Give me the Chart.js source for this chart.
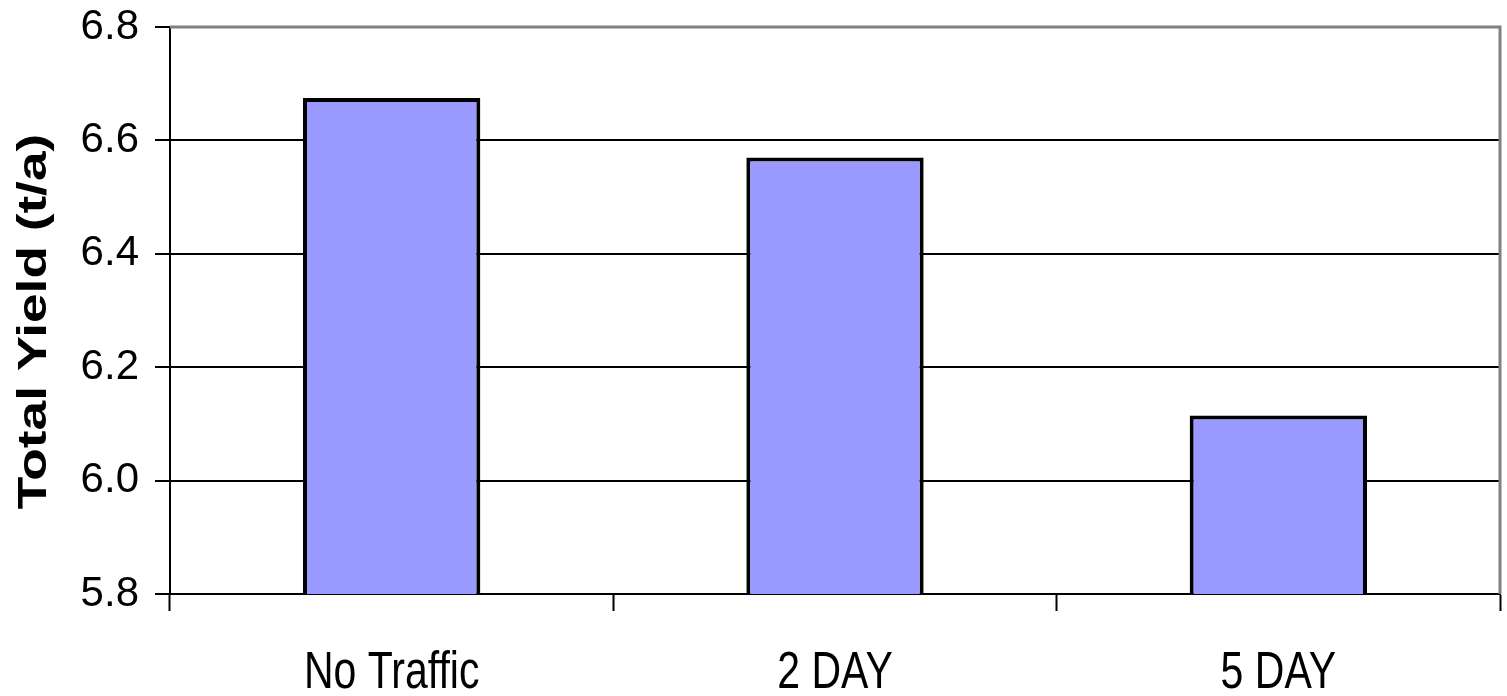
<!DOCTYPE html>
<html>
<head>
<meta charset="utf-8">
<title>Total Yield</title>
<script src="https://cdn.jsdelivr.net/npm/chart.js@4"></script>
<style>
  html, body { margin: 0; padding: 0; background: #fff; }
  #wrap { position: relative; width: 1507px; height: 696px; }
</style>
</head>
<body>
<div id="wrap"><canvas id="chart"></canvas></div>
<script>
const categories = ["No Traffic", "2 DAY", "5 DAY"];
const yields = [6.675, 6.57, 6.115];
const yMin = 5.8;
const yMax = 6.8;
const yStep = 0.2;
const yTitle = "Total Yield (t/a)";

// gray frame on top/right of the plot, tall category labels and the rotated axis title
const framePlugin = {
  id: "frame",
  afterDraw(chart) {
    const { ctx, chartArea, scales } = chart;
    ctx.save();
    ctx.strokeStyle = "#808080";
    ctx.lineWidth = 3;
    ctx.beginPath();
    ctx.moveTo(chartArea.left, chartArea.top);
    ctx.lineTo(chartArea.right, chartArea.top);
    ctx.lineTo(chartArea.right, chartArea.bottom);
    ctx.stroke();
    ctx.restore();

    // category labels, stretched vertically
    ctx.save();
    ctx.font = "41px 'Liberation Sans', Arial, sans-serif";
    ctx.fillStyle = "#000";
    ctx.textAlign = "center";
    ctx.textBaseline = "alphabetic";
    categories.forEach((label, i) => {
      const x = scales.x.getPixelForTick(i);
      ctx.save();
      ctx.translate(x, 688);
      ctx.scale(1, 1.28);
      ctx.fillText(label, 0, 0);
      ctx.restore();
    });
    ctx.restore();

    ctx.save();
    ctx.translate(35, (chartArea.top + chartArea.bottom) / 2 + 11);
    ctx.rotate(-Math.PI / 2);
    ctx.scale(1.33, 1);
    ctx.font = "bold 40px 'Liberation Sans', Arial, sans-serif";
    ctx.fillStyle = "#000";
    ctx.textAlign = "center";
    ctx.textBaseline = "middle";
    ctx.fillText(yTitle, 0, 0);
    ctx.restore();
  }
};

const config = {
  type: "bar",
  data: {
    labels: categories,
    datasets: [
      {
        data: yields,
        backgroundColor: "#9999FF",
        borderColor: "#000000",
        borderWidth: 4,
        borderSkipped: false,
        barPercentage: 0.4,
        categoryPercentage: 1.0,
      },
    ],
  },
  options: {
    responsive: true,
    maintainAspectRatio: false,
    animation: false,
    layout: {
      padding: { left: 0, right: 7, top: 27, bottom: 0 },
    },
    plugins: {
      legend: { display: false },
      tooltip: { enabled: false },
      title: { display: false },
    },
    scales: {
      x: {
        grid: {
          offset: true,
          drawOnChartArea: false,
          drawTicks: true,
          tickLength: 17,
          tickWidth: 2,
          tickColor: "#000",
        },
        border: { color: "#000", width: 2 },
        ticks: { display: false },
        afterFit(scale) {
          scale.height = 102;
          scale.paddingLeft = 0;
          scale.paddingRight = 0;
        },
      },
      y: {
        min: yMin,
        max: yMax,
        grid: {
          color: "#000",
          lineWidth: 2,
          tickLength: 15,
          tickWidth: 2,
          tickColor: "#000",
        },
        border: { color: "#000", width: 2 },
        ticks: {
          stepSize: yStep,
          color: "#000",
          padding: 16,
          font: { family: "'Liberation Sans', Arial", size: 42 },
          callback: (v) => Number(v).toFixed(1),
        },
        afterFit(scale) {
          scale.width = 170;
          scale.paddingTop = 0;
          scale.paddingBottom = 0;
        },
      },
    },
  },
  plugins: [framePlugin],
};

const ctx = document.getElementById("chart").getContext("2d");
new Chart(ctx, config);
</script>
</body>
</html>
